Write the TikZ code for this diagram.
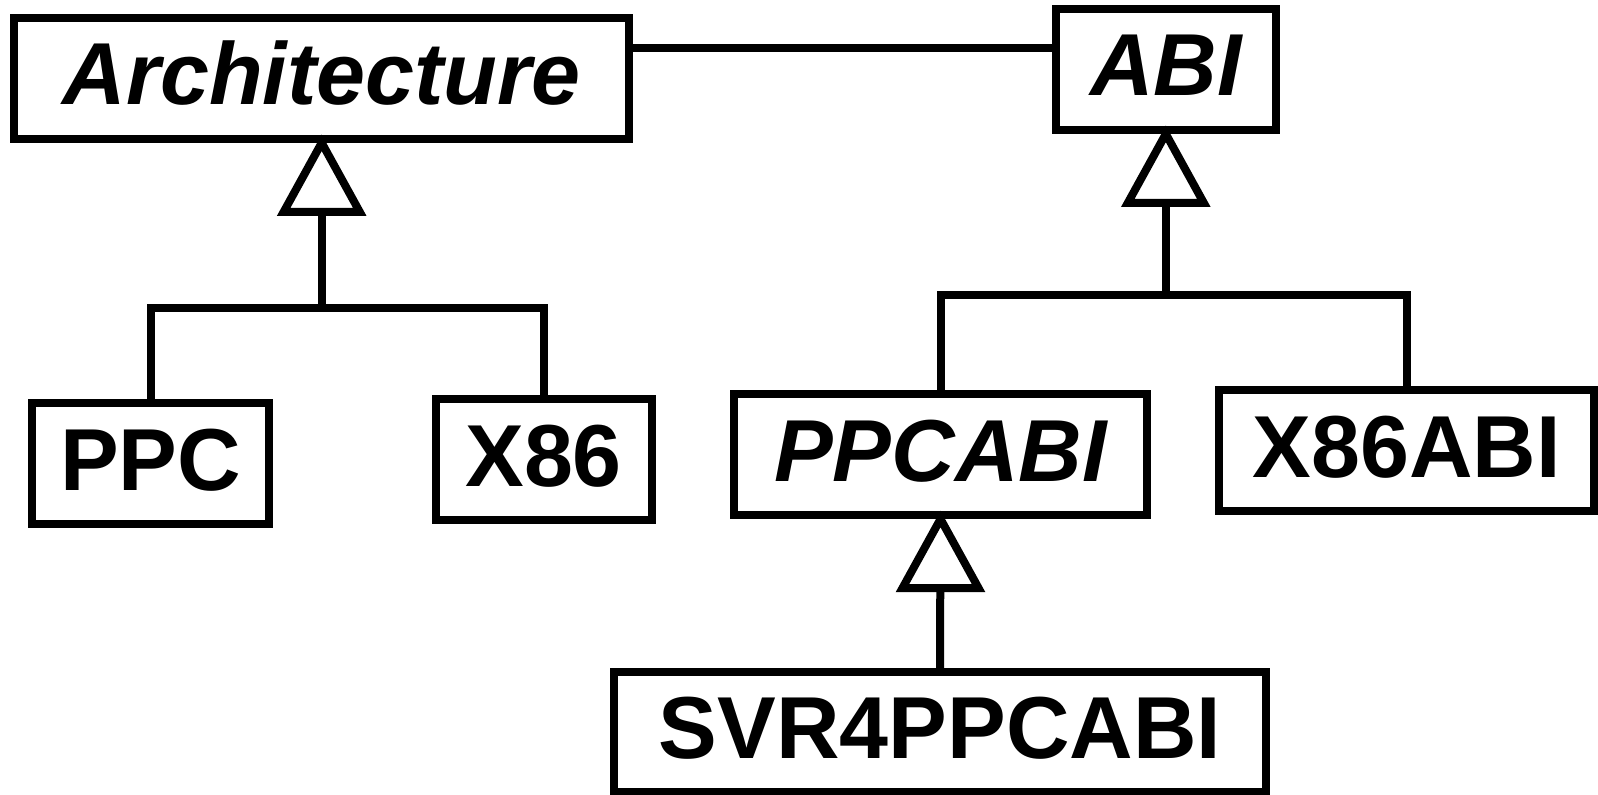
\documentclass[tikz,border=0pt]{standalone}
\usepackage{fontspec}
\setmainfont{Liberation Sans}
\begin{document}
\begin{tikzpicture}[x=0.5pt,y=-0.5pt,
  cls/.style={draw, line width=4pt, rectangle, inner sep=0pt,
    font=\fontsize{44}{48}\selectfont\bfseries,
    text height=31.5pt, text depth=5pt, minimum height=60.5pt},
  abstractcls/.style={cls, font=\fontsize{44}{48}\selectfont\bfseries\itshape},
  conn/.style={line width=4pt, line join=miter},
  gen/.style={line width=4pt, line join=miter, fill=white}]
\useasboundingbox (0,0) rectangle (1598,794);

% classes
\node[abstractcls, minimum width=307.5pt] (arch) at (321.7,78.3) {Architecture};
\node[abstractcls, minimum width=110pt] (abi) at (1165.8,69.4) {ABI};
\node[cls, minimum width=118.5pt] (ppc) at (150.5,463.5) {PPC};
\node[cls, minimum width=108pt] (x86) at (543.6,459.5) {X86};
\node[abstractcls, minimum width=206.5pt] (ppcabi) at (940.5,454.5) {PPCABI};
\node[cls, minimum width=187.5pt] (x86abi) at (1406.75,450.5) {X86ABI};
\node[cls, minimum width=326pt, minimum height=60pt] (svr) at (940,732) {SVR4PPCABI};

% association
\coordinate (assoc) at (0,47.5);
\draw[conn] (arch.east |- assoc) -- (abi.west |- assoc);

% Architecture hierarchy
\coordinate (archbus) at (321.7,308);
\draw[conn] (ppc.north) |- (x86.north |- archbus) -- (x86.north);
\draw[conn] (archbus) -- (arch.south);
\draw[gen] (arch.south) -- ++(38,69) -- ++(-76,0) -- cycle;

% ABI hierarchy
\coordinate (abibus) at (1165.8,295);
\draw[conn] (ppcabi.north) |- (x86abi.north |- abibus) -- (x86abi.north);
\draw[conn] (abibus) -- (abi.south);
\draw[gen] (abi.south) -- ++(38,69) -- ++(-76,0) -- cycle;

% PPCABI hierarchy
\draw[conn] (svr.north) -- (ppcabi.south);
\draw[gen] (ppcabi.south) -- ++(38,69) -- ++(-76,0) -- cycle;
\end{tikzpicture}
\end{document}
